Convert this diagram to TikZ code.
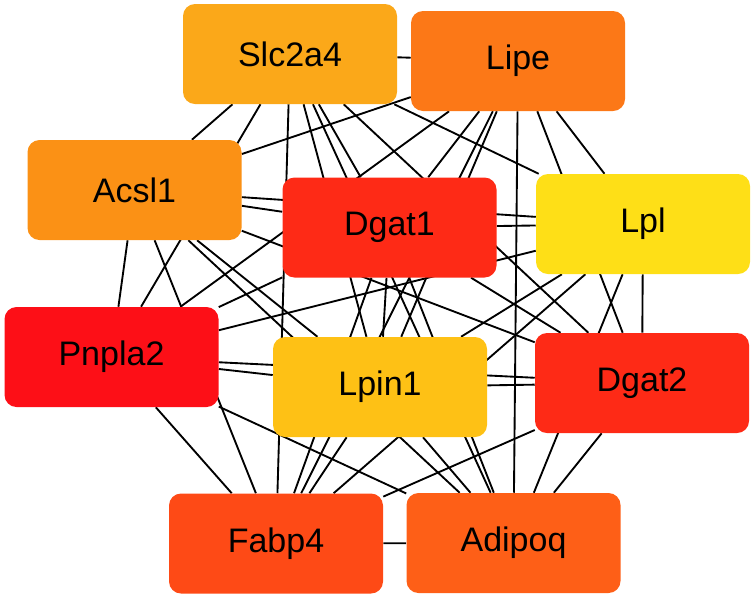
\documentclass[tikz,border=0pt]{standalone}
\usepackage{fontspec}
\setmainfont{Liberation Sans}
\usetikzlibrary{backgrounds}

\definecolor{cSlc}{RGB}{251,168,25}
\definecolor{cLipe}{RGB}{252,120,23}
\definecolor{cAcsl}{RGB}{251,145,21}
\definecolor{cDgatA}{RGB}{254,42,22}
\definecolor{cLpl}{RGB}{254,223,23}
\definecolor{cPnpla}{RGB}{253,15,23}
\definecolor{cLpin}{RGB}{254,193,21}
\definecolor{cDgatB}{RGB}{254,42,22}
\definecolor{cFabp}{RGB}{254,74,22}
\definecolor{cAdip}{RGB}{254,95,23}

\begin{document}
\begin{tikzpicture}[x=0.75pt,y=-0.75pt]

      \useasboundingbox (0,0) rectangle (752,597);

      \begin{scope}[every node/.style={rectangle,rounded corners=9pt,minimum width=160.5pt,minimum height=75pt,font=\fontsize{25.5}{30}\selectfont}]
        \node[fill=cSlc] (Slc2a4) at (290,54) {Slc2a4};
        \node[fill=cLipe] (Lipe) at (518,61) {Lipe};
        \node[fill=cAcsl] (Acsl1) at (134.5,190) {Acsl1};
        \node[fill=cDgatA] (Dgat1) at (389.5,227.5) {Dgat1};
        \node[fill=cLpl] (Lpl) at (643,224) {Lpl};
        \node[fill=cPnpla] (Pnpla2) at (111.5,357) {Pnpla2};
        \node[fill=cLpin] (Lpin1) at (380,387) {Lpin1};
        \node[fill=cDgatB] (Dgat2) at (642,383) {Dgat2};
        \node[fill=cFabp] (Fabp4) at (276,543.5) {Fabp4};
        \node[fill=cAdip] (Adipoq) at (513.5,543) {Adipoq};
      \end{scope}

      \begin{scope}[on background layer,every edge/.style={draw,line width=1.4pt}]
        \foreach \a [count=\i] in {Slc2a4,Lipe,Acsl1,Dgat1,Lpl,Pnpla2,Lpin1,Dgat2,Fabp4,Adipoq} {
          \foreach \b [count=\j] in {Slc2a4,Lipe,Acsl1,Dgat1,Lpl,Pnpla2,Lpin1,Dgat2,Fabp4,Adipoq} {
            \ifnum\j>\i
              \path (\a) edge (\b);
            \fi
          }
        }
      \end{scope}

    \end{tikzpicture}
\end{document}
